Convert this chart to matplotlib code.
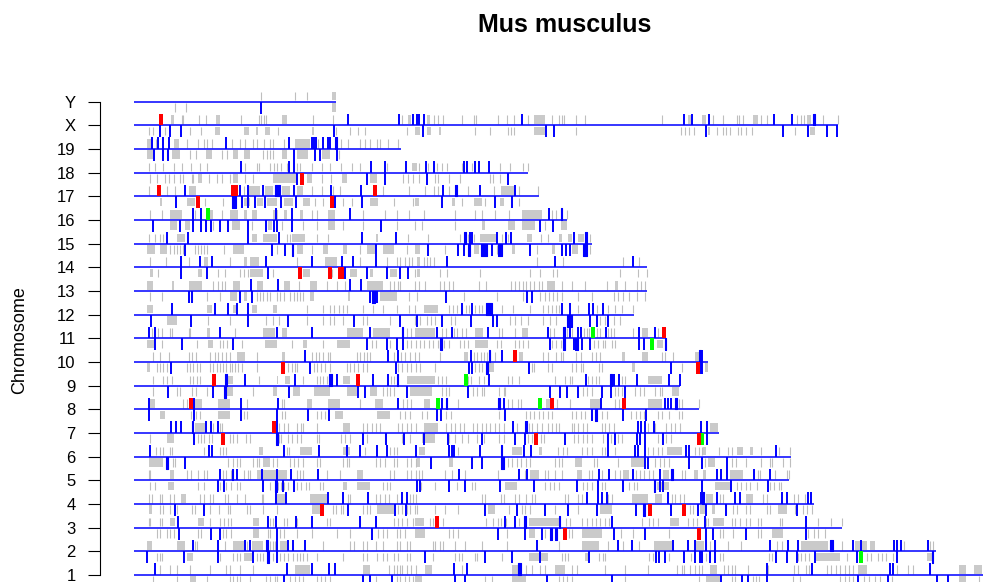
import matplotlib
matplotlib.use('Agg')
import matplotlib.pyplot as plt

plt.rcParams['font.family'] = ['Liberation Sans', 'DejaVu Sans']

# chromosome order bottom -> top, lengths in Mb
chroms = ['1', '2', '3', '4', '5', '6', '7', '8', '9', '10', '11', '12', '13',
          '14', '15', '16', '17', '18', '19', 'X', 'Y']
chrom_len = [197, 182.2, 160.8, 154.6, 148.9, 149.4, 132.9, 128.4, 124.1, 130.5,
             120.9, 113.6, 116.6, 116.6, 104, 98.4, 92, 89.5, 60.6, 160, 46]

# gene marks: "pos" = single tick, "a-b" = dense block (Mb)
gray_up = {
    'Y': "28.9 36.7 39.4 45.1-45.8",
    'X': "8.3-9 10.8 11.2 14.8 16.4 18.6-19.6 24.3 28.3 28.9 29.5 30 33.6-34.7 40.6 45.3 61 62.2-63 "
         "66.6-67.3 68.1 69 70.3 74.5 77.2 77.8 82.8 84.7 86.3 89.5 90.8-93.4 95 96.6 97.2 97.8 100.5 "
         "102.4 120.1 126-126.6 129-130.1 131.6 133.8 137 137.5 138.5 140.7-141.9 142.6 143.8 150.7 "
         "151.5 152.3 153-153.8 156.5 160",
    '19': "3-4 5 9-10.3 12 14.6 15.8 16.7 17.7 22.2 24.1 25.2 27.1 27.9 29.6 30.9 31.7 34 36.6-40 41.9 "
          "47 48.7 51.4 52.5 53.6 55.2 55.9 57.8 60.1",
    '18': "3.3 4.8 6.7 9 10.8 12.9 15 16.5 25.2 27.9 28.4 30.8 31.8 32.6 33.5 34.7 37 37.7 40.4 42.7 "
          "44.5 47.1 49.5 51.4 57.4 63.1-64.3 64.7 66.9 68.8 70 71.1 74.5 76.8 83.2 85.5 88.5 89.6",
    '17': "3.3 7.4 9.3 12.4-14.2 24.9 26.2-28.6 29.8-31.7 33.6-35.5 37-38.5 40.4 42.7 45.3 46.8 56.7 "
          "62.4 66.2 68.1 69.2 71.5 76 81.9 83.4-86.6 87.4 91.9",
    '16': "3.6 6.3 8.2-10.8 13.9 17.3-18 20 21.8-23.7 24.9-25.6 26.8-27.9 31.7-32.8 34-34.7 37.7-38.5 "
          "40.4 41.5 44.2-45.7 52.1 57 59.7 62.4 65.8 73 77.5 79 82.1 85.3 88.1-92.7 95 96 98.4",
    '15': "3.3 4.8 5.9 6.7 9.7-11.6 26.8-27.9 29.4-32.4 34.7 35.5 36-38.9 41.5 44.2 55-55.5 62.2 66.9 "
          "74.1 76 77.2 78.7-82.5 83.6 85.1 89.3-90.4 92.5 94.2 96.5-97.2 98.7-99.5 101-102.2 103.7",
    '14': "3.6 7.3 12.4 15.8-16.9 21.8 24.9-25.6 26.4-28.3 37 43.4-46.1 51.4 57.4 59.7 60.5 61.5 62.4 "
          "63.1 64.3-65 65.8 66.6 67.3 68.1 91.6 97.6 111.2 114.7",
    '13': "2.9-4.4 8.6-9 12.4-15.4 18 19 20 20.7 22.6-24.1 27.9-29.4 34-35.5 37.4 40-41.5 43.8 46.1 48 "
          "52.9-56.7 58.2 59 60 60.5 63.9 64.7 66.2 69.6 70.5 71.5 72.6 78.3 80 85.7 86.5 87.5 88.3 89 "
          "90 91 92 92.7 93.8-95.7 97.2 99.5 102.5 107.5 109.4-110.1 111.6 114.3 115.2 116.2",
    '12': "2.9-4.4 16.5-17.7 22.6-23.3 26.8-27.9 31.7-32.4 39.3 43 44.5 45.5 46.5 47.5 48.3 52.1 54.4 "
          "56.7 59.7 62.4 63.9 65.8-69.2 71.5 72.5 73.5 74.5 75.5 76.2 77.5 78.5 79.2 83.6 86.2 90 93 "
          "94 95 96 96.5 101 105.2 107.8 109.3 110.9 113.5",
    '11': "4 4.8 5.5 6.3 8.2 8.6 12.4 12.8 16.5-17.3 23 29.4-32.1 33.6-34.7 48.3-52.1 54.4-58.2 62 63 "
          "63.9-68.4 70 71 72.8 73.5 74.5 75.5 77.5-79.4 83 83.6 86.6 88.1-89.6 94.5 95.5 98.5 99.5 "
          "102.2 103 103.5 105.2 106 107.8 108.5 109.2 113.5 115.4-116.9 119",
    '10': "4.3 5.9 8 12.4 13.2 14.2 17.3 18.3 19.2 20 21 21.8 23.3-25.2 27.9 33.6-34.3 40.4 41.3 42 43 "
          "44 44.6 50.6 51.4 52.2 53 53.6 59 60.7 61.5 62.7 63.9 64.7 69.6 74.9-76 77.2 78 78.8 79.5 "
          "80.2 81 82 87.4-88.5 93 94.2 96 97 97.6 100.5 101.5 104 105 106 110.9-111.6 115.4-116.9 "
          "119.9 120.6 122.6 127.5-128.3",
    '9': "4.4 6.7 7.5 8.6 12.7 13.5 14.3 15 21.4-22.6 28.3 32.4-32.8 34.3-35.5 38.5 41.5 42.3 43 43.8 "
         "47.6-49.1 58.5 59 62-64.3 64-68.4 69 70 71 75.8 76.5 78.3 79.5 80.5 85.1 86 87.5 95.7 98 99 "
         "99.5 103.2 104 105 105.6 110.9 111.6 116.9-120",
    '8': "3.6-4.8 11.2 12 13.9-15.4 19.2-21.8 25.6 33.6 34.2 39.3-40.4 44.2-46.8 51.4 54.8-56.7 61.2 62 "
         "63 65.8-67.3 73.7 85.1 86 87.2 88 93.7-94.6 96.1 99.1 103.7-106.3 109.4 110.3 116.9-120 "
         "123.8 124.5 128.3",
    '7': "13.9-16.1 18 19.5 20 33 34 35 37 38 38.5 41.5 47.6-49.1 52 53 54 55 56 60 61 62 63 64 "
         "65.8-69.2 71 72 73 74 75 77 78 79 80 81 82 83 84 87 89.7 90.5 91.5 92.7 94.2 95 96 96.5 "
         "99.5 100 101 102 103 106.3 107 108 109 116.9 118.5 121 122 123 124 130.9-132.8",
    '6': "5 5.8 6.7 8.2 8.6 15.8 19.6 20.3 21 28.3-29.4 34.7 35.3 37.7-40.4 47.6-49.1 52.5 58.2 59 59.7 "
         "64.7-66.2 73.7 85.9-88.1 92-92.8 96.4 97.5 98.5 101.8 103 104 106.3 107 109.4 116.9 118 119 "
         "120 121.1-124.5 127.5 128.3 129.2 129.4-130.1 133 135 135.8 137-138.5 140-140.7 142.6 146.5 149",
    '5': "3.3 3.6 8.2-9 12 13 14.5 15.8 16.5 20.3 21 22 24.9 25.8 26.4 27.9-29 29.4-32.4 32.8-34.7 37 "
         "37.7 38.5 43.8 46.8 50.6-52.1 58.2 59 62 63 64 64.7 65.4 70.7 72.2 75.3 82.8 88.9 90-92 93.4 "
         "94.2 95.7 97.2 100.6-101.8 103.3 104 106.3 109.4 110.5 111.2-112.4 114 115 116 117 117.9 "
         "120.3-121.5 124.5 125.3 127.2-128.1 129.4-130.1 135.4-138.4 141.9 142.3 145.6 148.3 148.9",
    '4': "3.3 4 6 6.3 8.2 9 10.6-11.8 15 15.8 17.3 18 20.7 21.4 23.3 25.2 29 29.4 32.1-34.7 40-43.8 "
         "48.7 49.1 55 56 57 58 59.7 62.7 63.5 64 79 79.8 83.3 84 86.6 87.4 89 90.4 91.2 98 98.7 101 "
         "101.8 107.8 108.6 113.1-116.9 118.5-120 122.2 123 124 125 130.1-131.6 133.1 133.8 "
         "139.2-140.7 143 143.8 149.9 151 152.4",
    '3': "3.3 3.6 6 6.3 8.2-9.3 14.6-15.8 17.3 19.6 20.5 21.4 22 27.1-28.3 31 31.7 34 34.7 37 43.8 44.5 "
         "51.4 59 60 61 62 63.5 63.9-65.8 67.3 67.9 70.3 80 81.5 82.8 83.5 84.5 86.6 87.5 89.7-96.5 "
         "98.2 99 101.8 103 104 105 106 107 108 115.4 117 118 119.2 121.9-123.8 126 127 128 130.1 "
         "130.5 131.6-134.1 135.9 136.7 137.8 139.2 140 141.9 142.6 146.8 147.2 155.5 158.5 160.8",
    '2': "2.9-4 9.7-11.6 13.9 14.3 20.7 22.6-24.9 25.6 26.8-29.4 30.9 31.5 32.1 33.2-34.7 43 49.1 49.9 "
         "52.1 52.9 55 56.5 59.7 60.5 62 62.7 68 68.5 69.5 70.3 73 75.3 79 84.7 96.5 101.8-105.6 107.8 "
         "111.2 114.7 118.1-122.2 127.7-129.5 129.9 131 132.1 135 138 146.2 147.3 151.7-157.8 160.8 "
         "163.8-166.5 167.2-168.3 175 180.9 181.6",
    '1': "5.9 8.2 9.7 12.7 17.3 21 21.8 24.1 27.1 36.6-40 52.1-53.6 58 59 59.7 60.5 61 62 63 64 "
         "66.2-67.7 74.5 85.9-87.4 89 90.5 92.3 93.3 95.7-97.9 99.5 100.6 107 111.6 116.9 123.4 124.5 "
         "125 126.3 127.5 128.5 129.1 130.9-132.4 134 135 136 136.6 139.6 144.1 150 151 152.8 153.5 "
         "157.4 158.5 159.5 160.5 161.5 162.5 163.5 164.6-166.5 173.5 176 177 187.6-189.2 191-192.7",
}

gray_dn = {
    'Y': "9.3 11.8 45.1-45.8",
    'X': "3.5 4.4 7.1 12.7 15.2 18.4-19.6 25-26.1 27.7-28.1 29.7-30.9 32.8 40.4-40.8 46 49.1 50.8 52.5 "
         "62 63.9-65 66.6-67.5 69.4-69.8 77.4 80.9 84.9 85.6 86.3 91-93.4 100.5 124.4 125.3 126.2 "
         "127.2 130.5-130.9 132.4 133.9 134.5 135.4 137.3 138 139.2 140.4 150.2 153.6-154.8",
    '19': "2.9-4.8 7.4 8.6-10.5 12.7 14.2 16.4-17.7 20 21.1 22.6-23.7 24.9-26.4 29.4 30.2 31 31.7 "
          "33.6-34.7 37-39.6 42.7-44.6 46.5",
    '18': "3.6 5.2 7 8 9 10.5 11.2 13.1 13.5 14.6-15.4 17.1 18.8 20 21.8 22.6-23.7 25.2 27.1 31.5-37 "
          "39.3-40.4 42.8 44.7 47.2-48.3 53.6-55.2 61.2 62.3 63.5 64.7 68.4 69 71.7 74.1 80.9 81.7 83.2",
    '17': "5.8-6.3 12-13.9 16.1 20.3 24.9-26.4 27.9-29.4 30.2-32.4 34-36.2 38.5-40 41.1 43 47.6 49.5 "
          "53.6-55.5 59 63.5 63.9-64.7 72.2-73 74.5 77.2-79 79.8 83.2-84 87.4",
    '16': "8.2-9.7 11.6-12.7 18 22.2-24.1 26.8 30.5-31.3 33.6 38.5 41.5 44.2-45.7 47.6 52.1 59.7 63.9 "
          "65.4 73 79-79.8 85.1-86.6 88.1-91.2 93.4 97-98.4",
    '15': "2.9-4.8 6-7.4 8.2 9 9.7 10.5 11.2 13.9 14.6 15.3 16 16.5 20.5 22.6-24.9 32.4 37-38.5 40.4 "
          "43-44.2 47.6-48.3 51.4 52.9-54.8 56.7-59 62 63.9-65 70.7 77.2-78.3 82.5 85.9-86.6 91.6 "
          "95-95.7 99.5-100.8 103.7",
    '14': "3.6-4.4 5.5 14.6-15.4 19 20.7 24.1 25 26 26.4-29.4 31.7 38.5-40 44.9 49.1-50.6 53.6-54.4 "
          "58.2-59.7 63.9 64.3-65 69.6 71.1 78.7 90 92.3 95.3 96.1 110.5 114.5 116.5",
    '13': "3.6 6.3 13.1 16.5 19.6 21.8-23.3 24.9-25.6 27.9 28.6 29.4 30.2 30.9 32.4 33.2 34 35.5 36.3 "
          "37 37.8 38.5 40-40.8 48.7-49.1 55.9-59.7 62.4 64.3 74.9 82.5 88.5 92.3 93.3 94.3 95.2 96.2 "
          "97.2 101 104 109 110 111.2 112.4 114.3 116.2",
    '12': "7.4-9.7 16.9 21.8 30 31.5 33 39.3 43 44.5 45.5 47.6 52.1 53 58.2 63.9 65 66.5 67.5 68.5 72 "
          "73 85.5 86.5 88 89.5 93 94.5 96 106 107 109.2 110.5",
    '11': "2.9-4.8 6.3 14.3 16.9-18 19.6 20.3 21.1 24.5 29.8-32.4 35.8 38.5-39.3 43 46.1-49.1 54 55 "
          "58.2 62 63 64 65 66 67 68 69 70.5 71.5 74 75 76 77.5-80.5 82.5 83.5 86.6 87.5 88.5 89.6 95 "
          "96 97 97.5 104.5 105.5 106.5 107 108.7 109.4 118.8-120.3",
    '10': "2.9-3.6 5.2 6 6.7 7.4 12 12.8 13.5 14.3 15 17.3 18 18.8 19.6 20.3 21 21.8 22.2 23 23.7 24.5 "
          "27.9 35 36 36.6 37 40.8 41.5 42.5 43.5 44.6 48.3 49 50 51 52 53 60 61 62 63 64 65 68.4 77.5 "
          "78.5 79 80.7-81.8 90.5 91 94.2 95 99.5 100.5 101.5 102 105.6 106.3 113.1-113.9 124.5 "
          "129.8-130.5",
    '9': "4.3 9.7 10.5 13.1 14.2 16.5 21-22.6 27.1 31.7-32.4 36.2-37.7 40.8-44.6 48.3-50.6 53.6-55.2 "
         "56.7 57.5 58.2 59 62.7-64.6 64-67.7 70 71 71.5 77 78 79 79.5 83 84 84.3 102 103 104 109.3 110 "
         "110.9 113.9 115 116 118.5 119.5 120 122.2-123.8",
    '8': "6-7.1 13 14 15 19.2-21.8 24.9 25.6 33.6 34.3 41.5 42.5 43.5 45.7-47.6 55.2-58.2 60.5 61.5 "
         "62.7 65.5 66.5 71 72 83 84 89 90 91 92 93 94 95 99.5 100.5 101.5 102.5 106.3 107.5 113 114 "
         "115 116 119.2 120 121.5 123.8 124.5",
    '7': "3.6 7.4-9 14.5 15.3 16 17 17.8 21.8 22.5 23.5 25.5 26.3 32.9 33.5 35 36 37 38 41.5 42 47 48 "
         "49 53 57 61 62.8 65.5-68.4 71.5 73 74.5 76 78 79.5 83 84 89.5 90.5 92.5 93.2 100 101 102 103 "
         "104 106.5 107.5 108.5 110 110.8 119 120 121 122",
    '6': "3.3-6.7 8.9 9.3 21.4 22.6 23.5 24.1 27.1 28 28.3 29.4-30.9 31.7 32.4 35.5 36.3 37.3 38.5 41.5 "
         "42.3 47.6 48.3 48.9 55 56 57 59 59.7 62 63 64 64.3-65 71.5-72.6 85 86 87 88 89 90 95.7 96.5 "
         "97.2 100.3-101.8 104.5 105.2 110 113-116 118.5 119.5 120.5 121.5 129.8 130.5-132 136 136.8 "
         "139 142.6 144.5 145 147.5 149.2",
    '5': "3.6 4.8 7.8-9 14.6 15.8 19.6 20.3 21 22 23.3 24 29 31 32.8 33.5 34 35 37 38 39 39.7 42.3 43 "
         "47.6-48.3 50.6-53.6 56.7 57.5 58.2 65.3 68.5 73.3 76.8 77.6 84.3-87 93.4 94.5 95.5 96.5 102 "
         "103 104 106.3 107 112.4 113.6 114.3 118.8-121.7 132-135.4 137 138 139 140 141.5 144.5 145.5 "
         "146.5 147",
    '4': "3.3-4.1 6 6.7 8.2 9 9.7 13.1 13.8 17.3 19.4 21.4 21.8 25.6 26.4 29.4 32.4 40.4-42.3 45.2 46 "
         "47 47.6 52.1 53 53.6 55.2-59 60 61 62 62.7 63.9 64.3 68.4 70.7 73.7 80.5-82 85.3 88.1 88.9 90 "
         "95.7 100.9 106-108.6 126.4 127 128.6-129.7 131.3-132.1 134.5 136.2 137 139.2 139.9 143.8 "
         "144.5 146.4-148.3 150.2 152 153 154",
    '3': "5.2 5.9 7.4 8.2 9 14.6 15.3 20.3 21 22 27.1-28.3 30.5 30.9 33.2 34 37 40.4 46.1 49.1 55.5 "
         "56.5 57.5 59.7 60.5 61.5 63.9-66.2 71.5 72.5 73.7 84.7 89.7-91.2 93.4 98.9 99.5 101.8-106.3 "
         "110.7 113.5 121.5 133.1 133.8 136.2 141.9 142.6 144.9-147.5 153.2 154.5 155.5 157",
    '2': "5.2 6 6.3 12-13.5 19.6 22.6 23.3 24.1 24.9-27.1 27.9 28.6 29.4 31.7 32.4 33.2 34 35 36.2 37 "
         "37.7 38.5 39.3 41.5 47.6 52.1 52.9 55.2 56.5 57.5 59 60 62 62.7 68 73 73.8 74.5 77.5 78 83.6 "
         "89.7-94.2 97.2 98 98.7 102.5-103.3 105.6 106.5 107 117 118 118.5 121.5 126.6 129.1 130.1 "
         "133.2 133.9 144.4 145 150.8 151.5 152.5 153.5 155.1-160.4 162 166.5 167.5 169 170 171 172.5 "
         "180.2-181.4",
    '1': "4.4 9.7 12.7-14.2 16.5 21.8 22.5 23.3 24.1 26.4 30 31 32 32.4 35.5 36.5 37.5 38.5 41.5 42.5 "
         "43.5 44.5 55 59.7 60.5 61.5 62.5 63.3 63.9-65.4 79.8 81.3 85.9-89 96.5 97.5 98.5 99.5 111.6 "
         "128.3 130.1-133.1 136 136.6 140.7 141.4 142 149.8 151.3 160.4 161.5 162.5 163.5 165.8 167 "
         "168.5 169.5 172.3 187.6-189.2 192",
}

blue_up = {
    'Y': "",
    'X': "48.6 60.2 63.3 64.4 64.7 65.8 88.1 124.9 126.9 130.7 145.4 149.6 154.4-154.8",
    '19': "4.2 5.5 6.7 8 20.9 35.3 40.4 40.9 41.4 43 44 44.6 45.7-46.1",
    '18': "24.3 35.3 36.4 53.8 57 61.8 66.3 68.2 75 75.6 77.5 78.3 80.7",
    '17': "11.6 24.1 25.8 29.3 32.1-33.2 36.4 44.8 51.5 70.3 73-73.4 78.7 86.5",
    '16': "13.3 15.2 32.3 36 49 94.4 97-97.2",
    '15': "7.6 12.2 26 33 51.9 59.5 75.1-75.4 76.4 76.9 82.6 84.5 85.7 99.9 102.5-102.9",
    '14': "10.7 14.9 17.7 30 40.4 47.2 49.7 55 71.2 95.7 113.5",
    '13': "26.6 32.7 49 51.5",
    '12': "8.6 18.4 21.4 23.5 26 74.5 76.8 80-81.3 97.2 99.1 103.4 104.4 106.5",
    '11': "3.5 4.8 19.6 32.4 40.4 53.6 60.8-61.2 68.8 72.2 80.4 94.2 97.6-98 99 100.8 101.6 107.2 "
          "114.7 118.3",
    '10': "38.9 57.8 60 76.6 80.6-80.8 83.6 128.3-128.9 129.2",
    '9': "20.7-21.2 25.2 36.7 44.4-45 46.2 54.4 57.8 59.7-60 80.7 102.7 108.2-108.7 109.1 110.3 114.3 "
         "121.5 124.1",
    '8': "3.3 13.7 24.3 32.7 60.1 69.4 70 70.9-71.2 82.7-83.1 84.2 106.1 120.6 121.3 122.1 123-123.4",
    '7': "8.3 9.5 10.6 13.1-13.5 16.4 17.4 19.2 32.4 86.2 88.9-89.3 114.5 115.3 116.2 118.2 128.8 130.3",
    '6': "3.6 17.1 17.7 34.1 42.1 48.5 51.4 55.2 57.4 64.1 71.5 72.2 72.8 78.7 83.4-83.7 88.7 90.3 "
         "107.7 113.9 114.5 116.2 125.4 126.2 145.9",
    '5': "19.6 22.2-22.6 23.3 29.2 32.4 35.7 41.9 73.9 87.5 89.3 105.6 108 113.5 119.6 122.1-122.4 "
         "132.4 133.5 134.7 141 144.5",
    '4': "32.2 34.6 44.2 47.6 53.1 60.8 62 102.9 105.4 106.3 107.5 121.3 128.9 129.2-129.5 132.5 "
         "136.7 137.8 147.3 148.3 153.2 153.8",
    '3': "9.9 30.4 32.3 36.8 40.4 51.4 55 84.4 86.5 88.7-89 96.5-96.9 108.6 129.7 152.8",
    '2': "13.3 19 25.2 26.4 30-30.5 32.4 35.1 36.2 38.9 91.7 110.1 113.1 122.6 125.8 127.4 130.1 132 "
         "144.5 148.7 151 158.1-158.8 163.3 165.3 172.8 173.5 174.4 180.5",
    '1': "4.8 34.7 40.4 44.3 45.7 72.8 75.6 87.2-88 143.8 154 171.8 172.5 180.9",
}

blue_dn = {
    'Y': "28.8",
    'X': "5.9 8.2 10.7 45.5 65.6 93.7 95.5 130.1 147.5 153.2 157.6 159.7",
    '19': "4.6 6.5 7.8 36.4 41.1 42.3 46.1",
    '18': "37.1 53 57 66.5 85.1",
    '17': "9.5 22.2-23.2 24.6 25.8 27.6 29.8 33.4 36.8 45.7 51.9 70 82.1 86",
    '16': "4.3 10.5 13.3 15.2 16.4 17.4 19.6 21.3 25.8 30 31.8 32.6 36 56.1 92.2 95.2",
    '15': "11.6 31.4 34.3 36-36.2 55 66.8 73.6 75.1 76-76.4 78.9-80.2 81.3 82.7-83.6 89.9 97.2 98.2 "
          "99.1 102-102.9",
    '14': "10.6 16.7 30.5 48 53 57.4 60.5 62.2",
    '13': "12.4 13.1 24.1 26.9 53.6 54.2-54.8 55.3 70.9 89.3 90.4",
    '12': "3.8 13 26 35.1 50 60.5 64.4 70 76.6 81.5 82.5 98.4-99.5 103.7 105.2 107.8",
    '11': "4.8 11 22.6 52.9 57.4 59.7 61.2 69.6-70 94.6 97.6-98 99.9 100.3-101 101.8 103.7 114.8 116 "
          "120.6-120.9",
    '10': "8.3 40 59.5 76.2 76.9 80-80.4 89.7 122.1 128.3 128.8 129.2",
    '9': "7.8 18 20.5-21 35.3 50.8 52.4 62 75.8 94.6 96.9 98.4 100.8 106.3 108.4 111.6",
    '8': "3.4 13.7 24.3 32.4 39.5 44.4 68.8 69.8 84.3 104 104.8-105.2 111.2 116.3",
    '7': "13.7 32.3-32.8 52.1 57.3 61.4 66 71.3 79 86.6 88.9 98 107.7 109.4 114.3 115 116.2 120.3 "
         "128.8 130.3",
    '6': "7.3-7.8 11.6 67.5 76.9 79 83.4-84 116.2 116.9 126.2 129 129.2 134.8",
    '5': "19.2 20.5 29.4 32-32.4 33.8 36.4 64.3 65 71.5 75.3 83.1 91 100.6 105.4 111.2 118.1-118.4 "
         "119.6 120.3 129.1 135.6 144.1",
    '4': "9.3 15.8 48.7 59.3 61.8 79.7 87 93.4 98.6 105.2 114.1 115.6-116.2 122.1 128.1 130 134.5 150.6",
    '3': "10.2 17.5 19.6 32.4 54 82.8 88.9 92.7 94.6-95 95.7-96.1 109 116.2 130.1 131.6 139.2 152.7",
    '2': "3 11.4 19 27.1 30.2-30.7 32.4 66.2 79.8 86 92.3 103.4 118.6 119.4 120.6 124.9 127.5 128.7 "
         "129 131 132 145.9 148.4 150.7 154.8 164.4 173.5 181.4-181.6",
    '1': "34 52.1 53.6 58.7 73 75.3 93.8 108.6 133.5 138.1 139.6 143.8 164.6 171.4 182.4 185",
}

# highlighted genes: (chromosome, position Mb, strand side)
red_marks = [('X', 6.2, 1), ('18', 38.2, -1), ('17', 5.7, 1), ('17', 22.5, 1), ('17', 23.1, 1),
             ('17', 54.8, 1), ('17', 14.5, -1), ('17', 44.9, -1), ('14', 37.8, -1),
             ('14', 44.6, -1), ('14', 46.8, -1), ('14', 47.3, -1), ('11', 120.4, 1),
             ('10', 86.6, 1), ('10', 33.9, -1), ('10', 128.1, -1), ('9', 18.2, 1), ('9', 50.8, 1),
             ('8', 12.9, 1), ('8', 95.1, 1), ('8', 111.4, 1), ('7', 31.8, 1), ('7', 20.2, -1),
             ('7', 91.4, -1), ('7', 128.5, -1), ('4', 42.8, -1), ('4', 117.2, -1),
             ('4', 124.9, -1), ('3', 68.9, 1), ('3', 97.9, -1), ('3', 128.5, -1)]
green_marks = [('16', 16.8, 1), ('11', 104.4, 1), ('11', 117.7, -1), ('9', 75.4, 1),
               ('8', 69.0, 1), ('8', 92.3, 1), ('7', 129.2, -1), ('2', 165.2, -1)]


def parse(s):
    ticks, spans = [], []
    for tok in s.split():
        if '-' in tok:
            a, b = tok.split('-')
            spans.append((float(a), float(b) - float(a)))
        else:
            ticks.append(float(tok))
    return ticks, spans


GRAY = '#BEBEBE'
BLUE = '#0000FF'

W, H = 983, 582
fig = plt.figure(figsize=(W / 100, H / 100), dpi=100)
# plot region runs past the right and bottom edge (picture is cropped)
left_px, right_px, top_px, bot_px = 100, 1049, 82.8, 594
ax = fig.add_axes([left_px / W, (H - bot_px) / H, (right_px - left_px) / W, (bot_px - top_px) / H])
ax.set_xlim((left_px - 134) / 4.4, (right_px - 134) / 4.4)
ax.set_ylim(0.2, 21.8)

for i, c in enumerate(chroms):
    row = i + 1
    for d, sign in ((gray_up, 1), (gray_dn, -1)):
        t, sp = parse(d[c])
        lo, hi = sorted((row + sign * 0.06, row + sign * 0.42))
        ax.vlines(t, lo, hi, color=GRAY, lw=0.8, zorder=1)
        if sp:
            ax.broken_barh(sp, (lo, hi - lo), facecolor='#CACACA', edgecolor='none', zorder=1)
    ax.hlines(row, 0, chrom_len[i], color=BLUE, lw=1.1, zorder=2)
    for d, sign in ((blue_up, 1), (blue_dn, -1)):
        t, sp = parse(d[c])
        lo, hi = sorted((row, row + sign * 0.5))
        ax.vlines(t, lo, hi, color=BLUE, lw=1.4, zorder=3)
        if sp:
            ax.broken_barh(sp, (lo, hi - lo), facecolor=BLUE, edgecolor=BLUE, lw=0.8, zorder=3)

for marks, col in ((red_marks, '#FF0000'), (green_marks, '#00FF00')):
    for c, pos, sign in marks:
        row = chroms.index(c) + 1
        lo = row if sign > 0 else row - 0.5
        ax.broken_barh([(pos - 0.45, 0.9)], (lo, 0.5), facecolor=col, edgecolor='none', zorder=4)

for s in ('top', 'right', 'bottom'):
    ax.spines[s].set_visible(False)
ax.spines['left'].set_bounds(1, 21)
ax.spines['left'].set_linewidth(0.8)
ax.set_xticks([])
ax.set_yticks(range(1, 22))
ax.set_yticklabels(chroms)
ax.tick_params(axis='y', length=8.5, width=0.8, pad=9, labelsize=12)

fig.text(565 / W, 1 - 25 / H, 'Mus musculus', ha='center', va='center',
         fontsize=18, fontweight='bold')
fig.text(20 / W, 1 - 340 / H, 'Chromosome', ha='center', va='center',
         rotation=90, fontsize=13)

fig.savefig('out.png', dpi=100)
